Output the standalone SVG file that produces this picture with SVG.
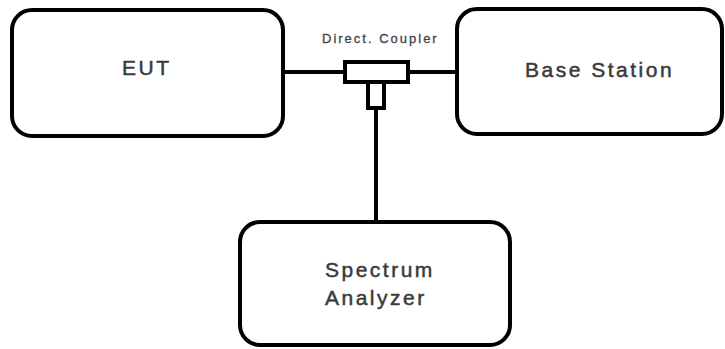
<svg xmlns="http://www.w3.org/2000/svg" width="725" height="349" viewBox="0 0 725 349">
<style>
.box{fill:#fff;stroke:#000;stroke-width:4}
.ln{fill:none;stroke:#000;stroke-width:4}
.t{font-family:"Liberation Sans",Arial,sans-serif;fill:#3a3a3a;stroke:#3a3a3a;stroke-width:0.5;font-size:21px;letter-spacing:2.5px}
.s{font-family:"Liberation Sans",Arial,sans-serif;fill:#444;stroke:#444;stroke-width:0.3;font-size:13px;letter-spacing:2px}
</style>
<rect width="725" height="349" fill="#fff"/>
<g id="connectors">
<line class="ln" x1="283" y1="72" x2="345" y2="72"/>
<line class="ln" x1="408" y1="72" x2="457" y2="72"/>
<line class="ln" x1="376" y1="108" x2="376" y2="222"/>
</g>
<g id="eut">
<rect class="box" x="12" y="10" width="271" height="126" rx="20"/>
<text class="t" x="122" y="75">EUT</text>
</g>
<g id="base-station">
<rect class="box" x="457" y="9" width="265" height="125" rx="20"/>
<text class="t" x="525" y="77">Base Station</text>
</g>
<g id="spectrum-analyzer">
<rect class="box" x="240" y="222" width="270" height="123" rx="20"/>
<text class="t" x="325" y="277">Spectrum</text>
<text class="t" x="325" y="305">Analyzer</text>
</g>
<g id="coupler">
<rect class="box" x="345" y="62" width="63" height="20" stroke-width="3"/>
<rect class="box" x="368" y="82" width="16" height="26" stroke-width="3"/>
<text class="s" x="322" y="43">Direct. Coupler</text>
</g>
</svg>
